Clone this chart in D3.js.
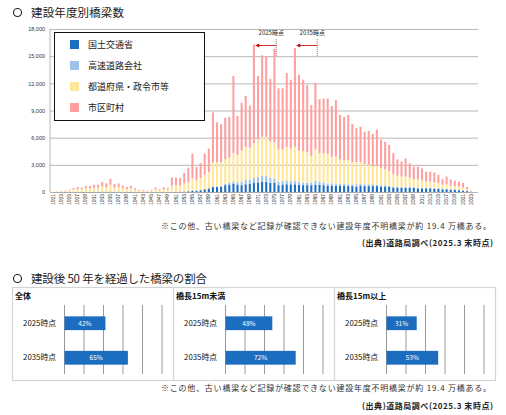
<!DOCTYPE html>
<html>
<head>
<meta charset="utf-8">
<script src="https://cdn.jsdelivr.net/npm/d3@7"></script>
<style>
  body { margin: 0; background: #fff; }
  svg { display: block; font-family: "Noto Sans CJK JP", "Noto Sans", sans-serif; }
</style>
</head>
<body>
<div id="chart"></div>
<script>
const width = 506
const height = 415

// 建設年度 1921–2023
const years = d3.range(1921, 2024)

const mlit = [
  0, 0, 0, 0, 0, 10, 10, 10, 20, 20, 20, 20, 30, 30, 40, 30, 30, 20, 20, 20,
  10, 10, 10, 0, 0, 10, 10, 10, 10, 20, 30, 40, 50, 80, 150, 150, 200, 300, 400, 550,
  550, 600, 750, 800, 900, 800, 750, 850, 900, 1000, 1050, 1150, 1100, 1000, 1000, 750, 800, 850, 850, 850,
  800, 750, 750, 750, 800, 800, 750, 700, 700, 700, 700, 700, 650, 650, 600, 700, 650, 650, 650, 650,
  600, 600, 550, 500, 450, 450, 450, 450, 450, 400, 400, 400, 400, 350, 350, 300, 300, 250, 250, 200,
  150, 100, 30
]
const expressway = [
  0, 0, 0, 0, 0, 0, 0, 0, 0, 0, 0, 0, 0, 0, 0, 0, 0, 0, 0, 0,
  0, 0, 0, 0, 0, 0, 0, 0, 0, 0, 0, 0, 0, 0, 0, 0, 0, 0, 0, 30,
  40, 80, 150, 200, 250, 250, 400, 500, 450, 550, 600, 650, 700, 550, 500, 350, 400, 400, 350, 400,
  350, 300, 300, 250, 450, 350, 300, 250, 250, 250, 200, 200, 200, 200, 250, 250, 200, 200, 200, 150,
  150, 150, 150, 100, 100, 100, 100, 150, 100, 100, 80, 80, 80, 80, 60, 60, 60, 50, 50, 40,
  30, 20, 10
]
const prefecture = [
  30, 50, 80, 100, 170, 270, 320, 310, 380, 380, 430, 460, 570, 520, 760, 470, 520, 400, 310, 380,
  230, 140, 140, 90, 150, 270, 170, 290, 270, 680, 720, 710, 900, 1020, 1350, 1150, 1350, 1600, 1800, 2720,
  2710, 2620, 2700, 2800, 3150, 3050, 3450, 3650, 3550, 3850, 4150, 4300, 4300, 4050, 4000, 3600, 3500, 3750, 3600, 3750,
  3450, 3450, 3350, 3000, 3450, 3150, 3250, 3250, 2950, 2950, 2700, 2600, 2650, 2450, 2450, 2350, 2250, 2150, 2050, 2100,
  1850, 1750, 1600, 1400, 1250, 1150, 1150, 1000, 850, 900, 820, 670, 670, 670, 590, 440, 490, 400, 350, 360,
  320, 180, 40
]
const municipal = [
  20, 30, 40, 50, 80, 170, 220, 180, 250, 250, 350, 320, 500, 400, 650, 400, 400, 280, 220, 300,
  160, 100, 100, 60, 100, 220, 120, 200, 170, 900, 850, 800, 1150, 1600, 2750, 1450, 1650, 2350, 2600, 5500,
  4400, 4200, 4600, 4500, 8500, 4300, 5250, 5600, 4650, 10900, 7000, 9000, 8900, 6900, 10300, 6750, 6750, 8150, 7600, 10900,
  8350, 7900, 7400, 5600, 7350, 5950, 6000, 6100, 5600, 6250, 4900, 4800, 5000, 4200, 3750, 3900, 3550, 3750, 3500, 4000,
  3200, 3050, 2900, 2300, 1800, 1650, 2000, 1550, 1400, 1400, 1300, 1100, 1100, 1050, 900, 600, 850, 700, 600, 550,
  500, 250, 70
]

const seriesNames = ['国土交通省', '高速道路会社', '都道府県・政令市等', '市区町村']
const seriesColors = ['#1c6cc0', '#9fc3e7', '#ffe699', '#ffa0a0']
const yTicks = [0, 3000, 6000, 9000, 12000, 15000, 18000]

// 建設後50年を経過した橋梁の割合 (%)
const panelNames = ['全体', '橋長15m未満', '橋長15m以上']
const pointLabels = ['2025時点', '2035時点']
const ratio2025 = [42, 48, 31]
const ratio2035 = [65, 72, 53]
const pctTicks = [0, 20, 40, 60, 80, 100]

const note = '※この他、古い橋梁など記録が確認できない建設年度不明橋梁が約 19.4 万橋ある。'
const source = '(出典)道路局調べ(2025.3 末時点)'

const svg = d3.select('#chart')
  .append('svg')
  .attr('width', width)
  .attr('height', height)

const title = (y, text, len) => {
  svg.append('circle')
    .attr('cx', 17.5).attr('cy', y - 4.5).attr('r', 4)
    .attr('fill', 'none').attr('stroke', '#222').attr('stroke-width', 1.1)
  svg.append('text')
    .attr('x', 31).attr('y', y)
    .attr('font-size', 11.5)
    .attr('fill', '#222')
    .attr('textLength', len)
    .text(text)
}

const notes = (y1, y2) => {
  svg.append('text')
    .attr('x', 161).attr('y', y1)
    .attr('font-size', 8)
    .attr('fill', '#333')
    .attr('textLength', 330)
    .attr('lengthAdjust', 'spacing')
    .text(note)
  svg.append('text')
    .attr('x', 362).attr('y', y2)
    .attr('font-size', 8)
    .attr('font-weight', 'bold')
    .attr('fill', '#222')
    .attr('textLength', 131)
    .attr('lengthAdjust', 'spacing')
    .text(source)
}

// ---- top chart ----
title(17, '建設年度別橋梁数', 93)

const plot = { left: 50, right: 478, top: 29, bottom: 192 }

const x = d3.scaleBand()
  .domain(years)
  .range([52, 52 + years.length * 4.08])
  .paddingInner(0.5)

const y = d3.scaleLinear()
  .domain([0, 18000])
  .range([plot.bottom, plot.top])

const rows = years.map((yr, i) => ({
  year: yr,
  [seriesNames[0]]: mlit[i],
  [seriesNames[1]]: expressway[i],
  [seriesNames[2]]: prefecture[i],
  [seriesNames[3]]: municipal[i]
}))

const stacked = d3.stack().keys(seriesNames)(rows)

const yAxis = svg.append('g')
  .attr('transform', `translate(${plot.left},0)`)
  .call(d3.axisLeft(y).tickValues(yTicks).tickFormat(d3.format(',')).tickSize(-(plot.right - plot.left)).tickPadding(5))

yAxis.select('.domain').remove()
yAxis.selectAll('line').attr('stroke', '#a6a6a6').attr('stroke-width', 0.8)
yAxis.selectAll('text').attr('font-size', 5.5).attr('fill', '#333').attr('font-family', 'Arial, "Liberation Sans", sans-serif')

svg.append('line')
  .attr('x1', plot.left).attr('x2', plot.left)
  .attr('y1', plot.top).attr('y2', plot.bottom)
  .attr('stroke', '#a6a6a6').attr('stroke-width', 0.8)

svg.append('g')
  .selectAll('g')
  .data(stacked)
  .join('g')
  .attr('fill', (d, i) => seriesColors[i])
  .selectAll('rect')
  .data(d => d)
  .join('rect')
  .attr('x', d => x(d.data.year))
  .attr('width', x.bandwidth())
  .attr('y', d => y(d[1]))
  .attr('height', d => y(d[0]) - y(d[1]))

const xAxis = svg.append('g')
  .attr('transform', `translate(0,${plot.bottom})`)
  .call(d3.axisBottom(x).tickValues(years.filter(d => d % 2 === 1)).tickSize(0).tickPadding(0))

xAxis.select('.domain').attr('stroke', '#a6a6a6').attr('stroke-width', 0.8)
xAxis.selectAll('text')
  .attr('font-size', 4.8)
  .attr('fill', '#333')
  .attr('font-family', 'Arial, "Liberation Sans", sans-serif')
  .attr('text-anchor', 'end')
  .attr('dy', '0.32em')
  .attr('transform', 'translate(0,2) rotate(-90)')

// legend
const legend = svg.append('g')
legend.append('rect')
  .attr('x', 54.5).attr('y', 32.5).attr('width', 150).attr('height', 88)
  .attr('fill', '#fff').attr('stroke', '#111').attr('stroke-width', 1)

const legendY = d3.scalePoint().domain(seriesNames).range([44.5, 107.5])
const item = legend.selectAll('g.item')
  .data(seriesNames)
  .join('g')
  .attr('class', 'item')
  .attr('transform', d => `translate(70,${legendY(d)})`)
item.append('rect')
  .attr('x', 0).attr('y', -4.5).attr('width', 9).attr('height', 9)
  .attr('fill', (d, i) => seriesColors[i])
item.append('text')
  .attr('x', 18).attr('dy', '0.36em')
  .attr('font-size', 9)
  .attr('fill', '#222')
  .text(d => d)

// 2025 / 2035 markers
const markers = [
  { label: '2025時点', year: 1975 },
  { label: '2035時点', year: 1985 }
]
const marker = svg.append('g').selectAll('g')
  .data(markers)
  .join('g')
  .attr('transform', d => `translate(${x(d.year) + x.bandwidth() + 0.8},0)`)

marker.append('line')
  .attr('y1', 39).attr('y2', 56)
  .attr('stroke', '#c0504d').attr('stroke-width', 0.8)
  .attr('stroke-dasharray', '1.2,0.8')
marker.append('line')
  .attr('x1', 0).attr('x2', -18).attr('y1', 45.5).attr('y2', 45.5)
  .attr('stroke', '#c00000').attr('stroke-width', 0.8)
marker.append('path')
  .attr('d', 'M-21,45.5 L-17,43.6 L-17,47.4 Z')
  .attr('fill', '#c00000')
marker.append('text')
  .attr('x', -5).attr('y', 35)
  .attr('text-anchor', 'middle')
  .attr('font-size', 6)
  .attr('fill', '#222')
  .text(d => d.label)

notes(229, 246)

// ---- bottom chart ----
title(283, '建設後 50 年を経過した橋梁の割合', 176)

const box = { left: 12, right: 495, top: 287, bottom: 380 }
const panelW = (box.right - box.left) / 3

svg.append('rect')
  .attr('x', box.left + 0.5).attr('y', box.top + 0.5)
  .attr('width', box.right - box.left).attr('height', box.bottom - box.top)
  .attr('fill', 'none').attr('stroke', '#d4d4d4').attr('stroke-width', 1.2)

const yb = d3.scaleBand()
  .domain(pointLabels)
  .range([306, 375])
  .paddingInner(0.6)
  .paddingOuter(0.3)

panelNames.forEach((name, i) => {
  const x0 = box.left + i * panelW
  const g = svg.append('g')
  if (i > 0) {
    g.append('line')
      .attr('x1', x0 + 0.5).attr('x2', x0 + 0.5)
      .attr('y1', box.top).attr('y2', box.bottom)
      .attr('stroke', '#d4d4d4').attr('stroke-width', 1.2)
  }
  g.append('text')
    .attr('x', x0 + 3).attr('y', 299)
    .attr('font-size', 8)
    .attr('font-weight', 'bold')
    .attr('fill', '#111')
    .text(name)

  const xs = d3.scaleLinear().domain([0, 100]).range([x0 + 52.5, x0 + 150])

  g.append('g').selectAll('line')
    .data(pctTicks)
    .join('line')
    .attr('x1', d => xs(d)).attr('x2', d => xs(d))
    .attr('y1', 305).attr('y2', 374)
    .attr('stroke', '#8c8c8c').attr('stroke-width', 0.9)

  const vals = [ratio2025[i], ratio2035[i]]
  const bars = g.append('g').selectAll('g')
    .data(pointLabels.map((p, j) => ({ p, v: vals[j] })))
    .join('g')

  bars.append('rect')
    .attr('x', xs(0)).attr('y', d => yb(d.p))
    .attr('width', d => xs(d.v) - xs(0))
    .attr('height', yb.bandwidth())
    .attr('fill', '#1c6cc0')
  bars.append('text')
    .attr('x', d => (xs(0) + xs(d.v)) / 2)
    .attr('y', d => yb(d.p) + yb.bandwidth() / 2)
    .attr('dy', '0.35em')
    .attr('text-anchor', 'middle')
    .attr('font-size', 6.5)
    .attr('fill', '#fff')
    .text(d => d.v + '%')
  bars.append('text')
    .attr('x', x0 + 44)
    .attr('y', d => yb(d.p) + yb.bandwidth() / 2)
    .attr('dy', '0.35em')
    .attr('text-anchor', 'end')
    .attr('font-size', 7.8)
    .attr('fill', '#111')
    .text(d => d.p)
})

notes(391, 409)
</script>
</body>
</html>
